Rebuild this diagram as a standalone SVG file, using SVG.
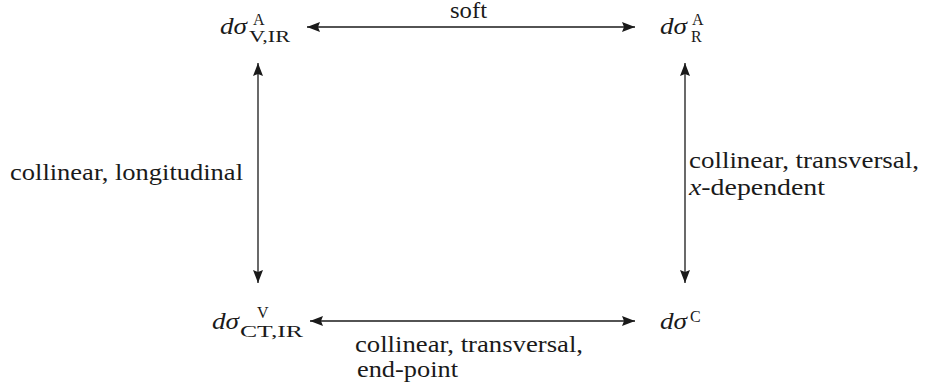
<svg xmlns="http://www.w3.org/2000/svg" width="926" height="387" viewBox="0 0 926 387">
<style>
text{font-family:"Liberation Serif","Times New Roman",serif;fill:#1a1a1a}
.m{font-size:24px;font-style:italic}
.s{font-size:16px}
.l{font-size:24px}
.conn line{stroke:#1a1a1a;stroke-width:1.3;marker-start:url(#ah);marker-end:url(#ah)}
</style>
<defs>
<marker id="ah" viewBox="0 0 13 10" refX="13" refY="5" markerWidth="13" markerHeight="10" markerUnits="userSpaceOnUse" orient="auto-start-reverse">
<path d="M0,0 L13,5 L0,10 L2,5 z" fill="#1a1a1a"/>
</marker>
</defs>
<rect width="926" height="387" fill="#fff"/>
<g id="connectors" class="conn">
<line x1="307" y1="27" x2="635" y2="27"/>
<line x1="310" y1="321" x2="635" y2="321"/>
<line x1="258" y1="63" x2="258" y2="283"/>
<line x1="685" y1="63" x2="685" y2="283"/>
</g>
<g id="node-va">
<text class="m" x="220" y="34" textLength="27" lengthAdjust="spacingAndGlyphs">dσ</text>
<text class="s" x="253" y="25">A</text>
<text class="s" x="249" y="42" textLength="41" lengthAdjust="spacingAndGlyphs">V,IR</text>
</g>
<g id="node-ra">
<text class="m" x="660" y="34" textLength="27" lengthAdjust="spacingAndGlyphs">dσ</text>
<text class="s" x="692" y="25">A</text>
<text class="s" x="691" y="42">R</text>
</g>
<g id="node-ctv">
<text class="m" x="212" y="329" textLength="27" lengthAdjust="spacingAndGlyphs">dσ</text>
<text class="s" x="257" y="318">V</text>
<text class="s" x="240" y="337" textLength="63" lengthAdjust="spacingAndGlyphs">CT,IR</text>
</g>
<g id="node-c">
<text class="m" x="660" y="329" textLength="27" lengthAdjust="spacingAndGlyphs">dσ</text>
<text class="s" x="690" y="322">C</text>
</g>
<g id="labels">
<text class="l" x="450" y="18" font-size="23" textLength="37" lengthAdjust="spacingAndGlyphs">soft</text>
<text class="l" x="10" y="180" textLength="233" lengthAdjust="spacingAndGlyphs">collinear, longitudinal</text>
<text class="l" x="689" y="168" textLength="230" lengthAdjust="spacingAndGlyphs">collinear, transversal,</text>
<text class="l" x="689" y="195" textLength="136" lengthAdjust="spacingAndGlyphs"><tspan font-style="italic">x</tspan>-dependent</text>
<text class="l" x="355" y="352" textLength="228" lengthAdjust="spacingAndGlyphs">collinear, transversal,</text>
<text class="l" x="357" y="377" textLength="101" lengthAdjust="spacingAndGlyphs">end-point</text>
</g>
</svg>
